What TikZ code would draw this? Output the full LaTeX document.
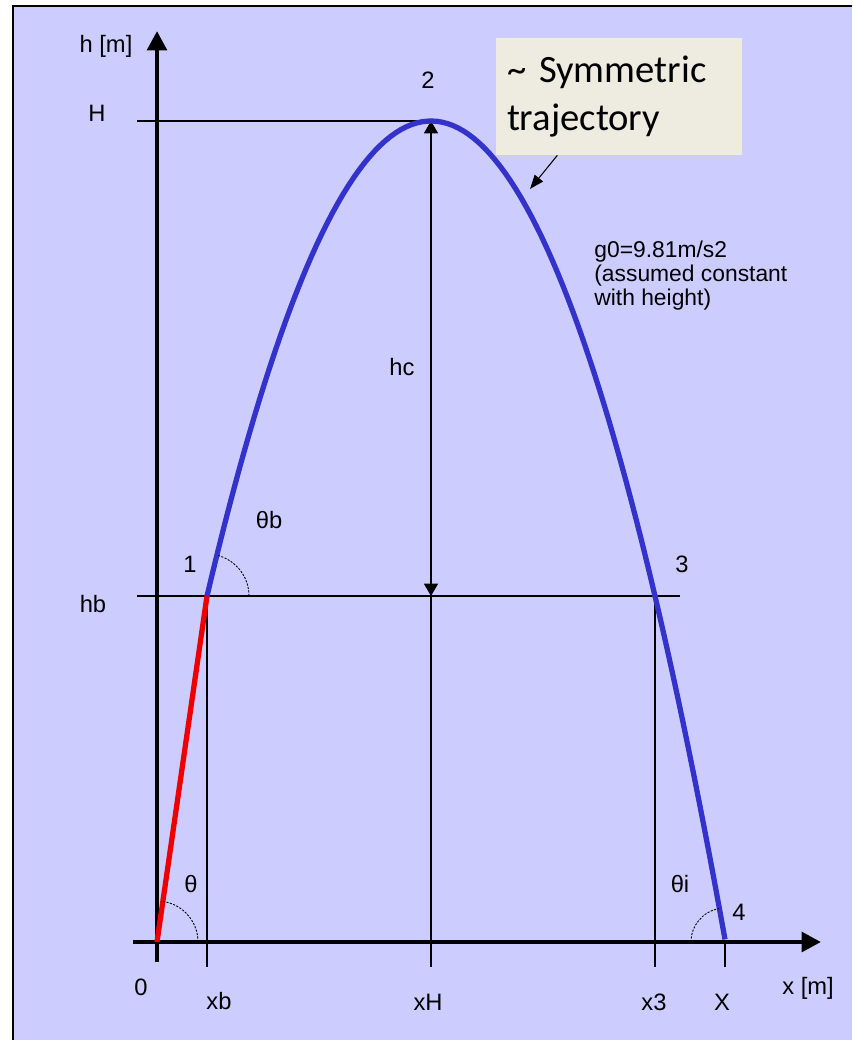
\documentclass[tikz,border=0pt]{standalone}
\usepackage{fontspec}
\setmainfont{Liberation Sans}
\newfontfamily\calloutfont{Carlito}
\usetikzlibrary{calc, positioning, arrows.meta}
\definecolor{panelbg}{RGB}{204,204,255}
\definecolor{trajblue}{RGB}{51,51,204}
\definecolor{boostred}{RGB}{238,0,0}
\definecolor{notefill}{RGB}{238,236,225}
\tikzset{
    ballistic/.style={
        x=0.02cm, y=-0.02cm,
        font=\fontsize{13.5}{15}\selectfont,
        axis/.style={line width=2.6pt, -{Triangle[length=11pt,width=11pt]}},
        guide/.style={line width=0.6pt},
        boost/.style={line width=3pt, boostred},
        coast/.style={line width=3pt, trajblue},
        angle_arc/.style={line width=0.5pt, dash pattern=on 1.2pt off 0.8pt},
        dimension/.style={guide, {Triangle[length=7pt,width=8pt]}-{Triangle[length=7pt,width=8pt]}},
        pointer/.style={guide, -{Triangle[length=8pt,width=6pt]}},
        label/.style={inner sep=0pt},
        note/.style={fill=notefill, minimum width=4.92cm, minimum height=2.34cm, inner sep=0.22cm,
            text width=4.48cm, align=left, font=\calloutfont\fontsize{22}{27}\selectfont}
    }
}

\begin{document}
\begin{tikzpicture}[ballistic]
        \useasboundingbox (0,0) rectangle (852,1040);
        % Panel
        \fill[white] (0,0) rectangle (852,1040);
        \fill[panelbg] (13,6) rectangle (852,1040);
        \draw[line width=1.7pt] (13,1040) -- (13,6) -- (852,6);

        % Key points
        \coordinate (O) at (157,942);
        \coordinate (P1) at (207,596);
        \coordinate (P2) at (431,121);
        \coordinate (P3) at (655,596);
        \coordinate (P4) at (725,942);
        \coordinate (base) at (0,967);
        \coordinate (Hleft) at (137,121);
        \coordinate (hbleft) at (137,596);
        \coordinate (hbright) at (680,596);

        % Guide lines
        \draw[guide] (Hleft) -- (P2);
        \draw[guide] (hbleft) -- (hbright);
        \draw[guide] (P1) -- (P1 |- base);
        \draw[guide] (P3) -- (P3 |- base);
        \draw[guide] (P4) -- (P4 |- base);
        \draw[dimension] (P2) -- (P2 |- P1);
        \draw[guide] (P2 |- P1) -- (P2 |- base);

        % Axes
        \coordinate (ybot) at (157,962);
        \coordinate (ytop) at (157,31);
        \coordinate (xleft) at (133,942);
        \coordinate (xright) at (821,942);
        \draw[axis] (ybot) -- (ytop);
        \draw[axis] (xleft) -- (xright);

        % Trajectory
        \draw[boost] (O) -- (P1);
        \draw[coast] plot[domain=207:725, samples=100] (\x, {121 + (0.0973*(\x-431))^2});

        % Angles
        \draw[angle_arc] ($(O)+(0.82cm,0)$) arc[start angle=0, end angle=81.8, radius=0.82cm];
        \draw[angle_arc] ($(P1)+(0.84cm,0)$) arc[start angle=0, end angle=76.7, radius=0.84cm];
        \draw[angle_arc] ($(P4)+(-0.68cm,0)$) arc[start angle=180, end angle=100.2, radius=0.68cm];

        % Labels
        \node[label] (hm) at (106,46) {h [m]};
        \node[label] (Hlab) at (97,113) {H};
        \node[label] (hblab) at (93,604) {hb};
        \node[label] (n2) at (428,80) {2};
        \node[label] (n1) at (190,564) {1};
        \node[label] (n3) at (682,564) {3};
        \node[label] (n4) at (739,912) {4};
        \node[label] (hclab) at (402,367) {hc};
        \node[label] (thb) at (269,520) {θb};
        \node[label] (th) at (191,884) {θ};
        \node[label] (thi) at (680,884) {θi};
        \node[label] (zero) at (141,987) {0};
        \node[label] (xblab) at (219,1001) {xb};
        \node[label] (xHlab) at (428,1002) {xH};
        \node[label] (x3lab) at (654,1002) {x3};
        \node[label] (Xlab) at (722,1002) {X};
        \node[label] (xm) at (808,988) {x [m]};
        \node[label, anchor=north west, align=left, font=\fontsize{13}{13.5}\selectfont] (gravity) at (594,241)
            {g0=9.81m/s2\\(assumed constant\\with height)};

        % Callout
        \node[note] (callout) at (619,96.5) {\textasciitilde{} Symmetric\\trajectory};
        \coordinate (tip) at (530,189);
        \draw[pointer] ($(callout.south west)!0.25!(callout.south east)$) -- (tip);
\end{tikzpicture}
\end{document}
